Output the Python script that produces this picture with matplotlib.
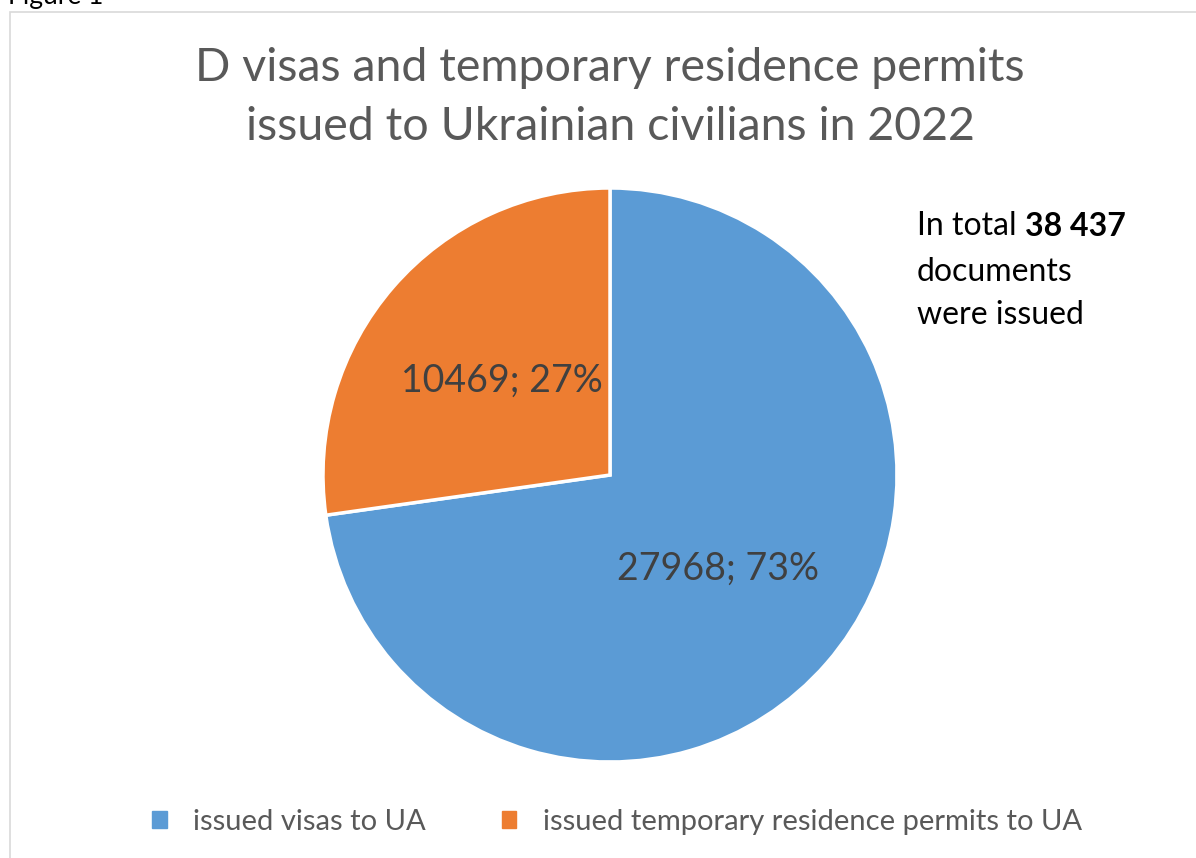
"""D visas and temporary residence permits issued to Ukrainian civilians, 2022."""
import numpy as np
import matplotlib.pyplot as plt
from matplotlib.patches import Rectangle

categories = ["issued visas to UA", "issued temporary residence permits to UA"]
counts = [27968, 10469]
colors = ["#5B9BD5", "#ED7D31"]
total_label = "38 437"

plt.rcParams["font.family"] = ["Lato", "DejaVu Sans"]

W, H = 1196, 858
fig = plt.figure(figsize=(W / 100, H / 100), dpi=100)


def fx(px):
    return px / W


def fy(py):
    return 1 - py / H


# chart frame
fig.patches.append(Rectangle((fx(10), fy(900)), fx(1300), 900 / H - 12 / H,
                             transform=fig.transFigure, fill=False,
                             edgecolor="#D9D9D9", lw=1.2))
fig.text(fx(8), fy(4), "Figure 1", fontsize=19, color="black", va="baseline")

fig.text(fx(610), fy(68), "D visas and temporary residence permits",
         ha="center", va="center", fontsize=33.5, color="#595959")
fig.text(fx(610), fy(127), "issued to Ukrainian civilians in 2022",
         ha="center", va="center", fontsize=33.5, color="#595959")

# pie
cx, cy, r = 610, 475, 287
ax = fig.add_axes([fx(cx - r), fy(cy + r), 2 * r / W, 2 * r / H])

wedges, texts = ax.pie(counts, colors=colors, startangle=90, counterclock=False,
                       wedgeprops=dict(edgecolor="white", linewidth=2.5))
total = sum(counts)
for w, c in zip(wedges, counts):
    ang = np.deg2rad((w.theta1 + w.theta2) / 2)
    ax.text(0.5 * np.cos(ang), 0.5 * np.sin(ang), f"{c}; {100 * c / total:.0f}%",
            ha="center", va="center", fontsize=27, color="#404040")
ax.set_xlim(-1, 1)
ax.set_ylim(-1, 1)
ax.set_aspect("equal")
ax.axis("off")

# total note
t1 = fig.text(fx(917), fy(226), "In total ", fontsize=23, color="black", va="center")
renderer = fig.canvas.get_renderer()
x_end = t1.get_window_extent(renderer).x1
fig.text(x_end / W, fy(226), total_label, fontsize=23, fontweight="bold",
         color="black", va="center")
fig.text(fx(917), fy(272), "documents", fontsize=23, color="black", va="center")
fig.text(fx(917), fy(315), "were issued", fontsize=23, color="black", va="center")

# legend
handles = [Rectangle((0, 0), 1, 1, color=c) for c in colors]
fig.legend(handles, categories, loc="center", bbox_to_anchor=(fx(617), fy(822)),
           ncol=2, frameon=False, fontsize=21, labelcolor="#595959",
           handlelength=0.5, handleheight=0.5, columnspacing=2.6, handletextpad=0.9)

fig.savefig("out.png", dpi=100)
